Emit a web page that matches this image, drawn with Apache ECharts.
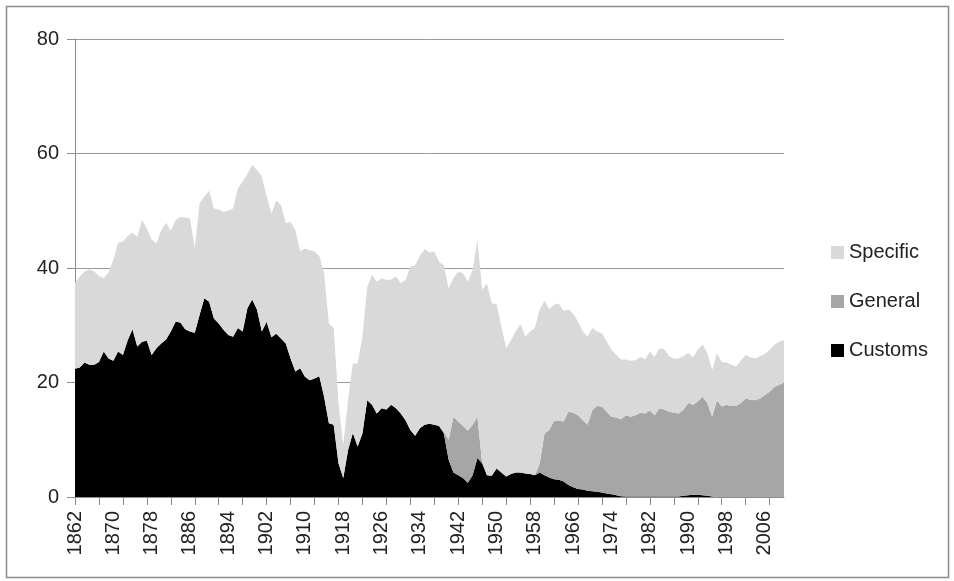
<!DOCTYPE html>
<html>
<head>
<meta charset="utf-8">
<script src="https://cdn.jsdelivr.net/npm/echarts@6/dist/echarts.min.js"></script>
<style>
html,body{margin:0;padding:0;background:#fff;}
#chart{width:954px;height:581px;}
</style>
</head>
<body>
<div id="chart"></div>
<script>
var years = ['1862','1863','1864','1865','1866','1867','1868','1869','1870','1871','1872','1873','1874','1875','1876','1877','1878','1879','1880','1881','1882','1883','1884','1885','1886','1887','1888','1889','1890','1891','1892','1893','1894','1895','1896','1897','1898','1899','1900','1901','1902','1903','1904','1905','1906','1907','1908','1909','1910','1911','1912','1913','1914','1915','1916','1917','1918','1919','1920','1921','1922','1923','1924','1925','1926','1927','1928','1929','1930','1931','1932','1933','1934','1935','1936','1937','1938','1939','1940','1941','1942','1943','1944','1945','1946','1947','1948','1949','1950','1951','1952','1953','1954','1955','1956','1957','1958','1959','1960','1961','1962','1963','1964','1965','1966','1967','1968','1969','1970','1971','1972','1973','1974','1975','1976','1977','1978','1979','1980','1981','1982','1983','1984','1985','1986','1987','1988','1989','1990','1991','1992','1993','1994','1995','1996','1997','1998','1999','2000','2001','2002','2003','2004','2005','2006','2007','2008','2009','2010'];

var customs = [22.4,22.6,23.5,23.1,23.1,23.6,25.4,24.2,23.8,25.4,24.8,27.4,29.3,26.3,27.1,27.3,24.8,26.0,26.8,27.5,28.9,30.6,30.5,29.3,28.9,28.7,31.8,34.7,34.1,31.2,30.3,29.2,28.3,28.0,29.5,28.9,33.0,34.5,32.7,28.9,30.6,27.9,28.5,27.7,26.8,24.2,21.9,22.5,21.0,20.4,20.7,21.1,17.5,12.9,12.6,5.9,3.3,8.2,11.2,8.8,11.1,16.9,16.1,14.6,15.5,15.3,16.1,15.5,14.6,13.4,11.7,10.7,12.0,12.6,12.8,12.6,12.4,11.1,6.5,4.3,3.8,3.3,2.5,3.8,6.8,5.9,3.8,3.7,5.0,4.3,3.6,4.0,4.3,4.3,4.1,4.0,3.8,4.3,3.8,3.4,3.1,3.0,2.7,2.1,1.7,1.4,1.3,1.1,1.0,0.9,0.8,0.6,0.5,0.3,0.15,0.1,0.1,0.1,0.1,0.1,0.1,0.1,0.1,0.1,0.1,0.1,0.1,0.2,0.3,0.4,0.4,0.3,0.2,0.1,0,0,0,0,0,0,0,0,0,0,0,0,0,0,0];

var general = [0,0,0,0,0,0,0,0,0,0,0,0,0,0,0,0,0,0,0,0,0,0,0,0,0,0,0,0,0,0,0,0,0,0,0,0,0,0,0,0,0,0,0,0,0,0,0,0,0,0,0,0,0,0,0,0,0,0,0,0,0,0,0,0,0,0,0,0,0,0,0,0,0,0,0,0,0,0.3,3.5,9.7,9.4,9.1,9.1,8.8,7.2,0,0,0,0,0,0,0,0,0,0,0,0,1.5,7.3,8.3,10.2,10.3,10.5,12.8,13.0,12.9,12.1,11.5,14.2,15.0,15.0,14.3,13.5,13.6,13.45,14.2,13.9,14.2,14.6,14.5,15.0,14.2,15.4,15.2,14.8,14.6,14.5,15.0,16.1,15.7,16.3,17.2,16.2,13.9,16.9,15.8,16.1,15.9,15.9,16.4,17.2,17.0,16.9,17.2,17.8,18.4,19.2,19.6,20.0];

var specific = [15.0,15.9,15.9,16.7,16.3,15.0,12.8,15.0,17.6,19.0,19.8,18.2,16.9,19.1,21.3,19.6,20.2,18.3,19.8,20.4,17.6,17.8,18.4,19.5,19.8,14.8,19.5,17.8,19.4,19.2,19.9,20.6,21.7,22.4,24.4,26.2,23.4,23.5,24.4,27.1,21.9,21.6,23.3,23.3,21.0,23.9,24.7,20.4,22.4,22.7,22.2,21.0,21.6,17.4,16.9,10.5,5.8,8.7,12.1,14.5,16.9,19.8,22.7,23.0,22.7,22.6,21.9,23.0,22.8,24.5,28.5,29.8,30.1,30.7,29.9,30.3,28.7,29.1,26.4,24.2,26.2,26.7,26.0,27.1,30.9,30.3,33.5,30.1,28.7,25.5,22.4,23.4,24.6,25.9,23.9,24.9,25.7,26.9,23.2,21.1,20.3,20.5,19.3,17.9,17.3,16.3,15.5,15.4,14.3,13.0,12.8,12.2,11.7,10.9,10.4,9.7,9.8,9.6,9.8,9.4,10.3,10.2,10.5,10.5,9.7,9.5,9.6,9.4,8.8,8.3,9.0,9.2,8.7,8.2,8.2,7.8,7.4,7.2,6.9,7.4,7.6,7.4,7.3,7.4,7.2,7.3,7.4,7.5,7.4];

var yTicks = [0, 20, 40, 60, 80];

var FONT = '"Liberation Sans", Arial, sans-serif';
var chart = echarts.init(document.getElementById('chart'), null, {renderer: 'canvas'});

function areaSeries(name, data, color) {
  return {
    name: name,
    type: 'line',
    stack: 'total',
    data: data,
    symbol: 'none',
    showSymbol: false,
    lineStyle: {width: 0, color: color},
    itemStyle: {color: color},
    areaStyle: {color: color, opacity: 1},
    emphasis: {disabled: true},
    z: 2
  };
}

chart.setOption({
  animation: false,
  backgroundColor: '#fff',
  graphic: [{
    type: 'rect',
    shape: {x: 6.5, y: 6.5, width: 942, height: 571},
    style: {fill: 'none', stroke: '#8c8c8c', lineWidth: 1.5},
    silent: true
  }],
  grid: {left: 75, right: 170, top: 39, bottom: 84, containLabel: false},
  legend: {
    orient: 'vertical',
    left: 826,
    top: 236,
    itemWidth: 13,
    itemHeight: 13,
    itemGap: 26,
    icon: 'rect',
    data: ['Specific', 'General', 'Customs'],
    textStyle: {fontFamily: FONT, fontSize: 20, color: '#222', lineHeight: 23},
    selectedMode: false
  },
  xAxis: {
    type: 'category',
    data: years,
    boundaryGap: false,
    axisLine: {show: true, lineStyle: {color: '#8c8c8c', width: 1}},
    axisTick: {show: true, interval: 4, length: 8, lineStyle: {color: '#8c8c8c'}},
    axisLabel: {interval: 7, rotate: 90, margin: 14, fontFamily: FONT, fontSize: 20, color: '#222'},
    splitLine: {show: false}
  },
  yAxis: {
    type: 'value',
    min: yTicks[0],
    max: yTicks[yTicks.length - 1],
    interval: 20,
    axisLine: {show: true, lineStyle: {color: '#8c8c8c', width: 1}},
    axisTick: {show: true, inside: false, length: 8, lineStyle: {color: '#8c8c8c'}},
    axisLabel: {margin: 16, fontFamily: FONT, fontSize: 20, color: '#222'},
    splitLine: {show: true, lineStyle: {color: '#9a9a9a', width: 1}}
  },
  series: [
    areaSeries('Customs', customs, '#000000'),
    areaSeries('General', general, '#a6a6a6'),
    areaSeries('Specific', specific, '#d9d9d9')
  ]
});
</script>
</body>
</html>
